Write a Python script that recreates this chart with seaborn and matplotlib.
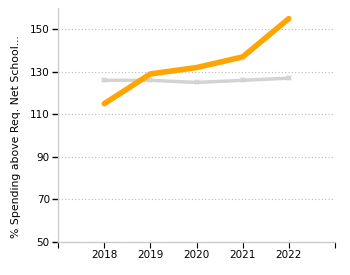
import matplotlib
matplotlib.use("Agg")
import matplotlib.pyplot as plt
import seaborn as sns
import pandas as pd

# Chart data
years = [2018, 2019, 2020, 2021, 2022]
district = [115, 129, 132, 137, 155]
state_avg = [126, 126, 125, 126, 127]

df = pd.DataFrame({"Year": years + years,
                   "Value": district + state_avg,
                   "Series": ["District"] * 5 + ["State"] * 5})

sns.set_style("white", {"xtick.bottom": True, "ytick.left": True})
plt.rcParams["font.family"] = ["DejaVu Sans"]

fig = plt.figure(figsize=(3.5, 2.75), dpi=100)
ax = fig.add_axes([0.166, 0.12, 0.791, 0.851])

sns.lineplot(data=df[df.Series == "State"], x="Year", y="Value", ax=ax,
             color="#d3d3d3", linewidth=2.5, marker="X", markersize=4,
             markeredgewidth=0)
sns.lineplot(data=df[df.Series == "District"], x="Year", y="Value", ax=ax,
             color="#ffa500", linewidth=4, solid_capstyle="round")

ax.set_xlim(2017, 2023)
ax.set_ylim(50, 160)
ax.set_xticks(range(2017, 2024))
ax.set_xticklabels([""] + [str(y) for y in years] + [""], fontsize=7.5)
ax.set_yticks([50, 70, 90, 110, 130, 150])
ax.set_yticklabels(["50", "70", "90", "110", "130", "150"], fontsize=7.5)
ax.xaxis.set_tick_params(bottom=True, length=4, width=0.8, color="black",
                         labelcolor="black", pad=2)
ax.yaxis.set_tick_params(left=True, length=4, width=1, color="black",
                         labelcolor="black", pad=2)
ax.set_xlabel("")
ax.set_ylabel("% Spending above Req. Net School...", fontsize=7.8,
              color="black")
ax.yaxis.set_label_coords(-0.135, 0.45)
ax.grid(axis="y", linestyle=(0, (1, 2)), color="#bbbbbb", linewidth=0.8)
ax.grid(axis="x", visible=False)
for side in ["top", "right"]:
    ax.spines[side].set_visible(False)
for side in ["left", "bottom"]:
    ax.spines[side].set_color("#cccccc")
    ax.spines[side].set_linewidth(1)

fig.savefig("out.png", dpi=100)
